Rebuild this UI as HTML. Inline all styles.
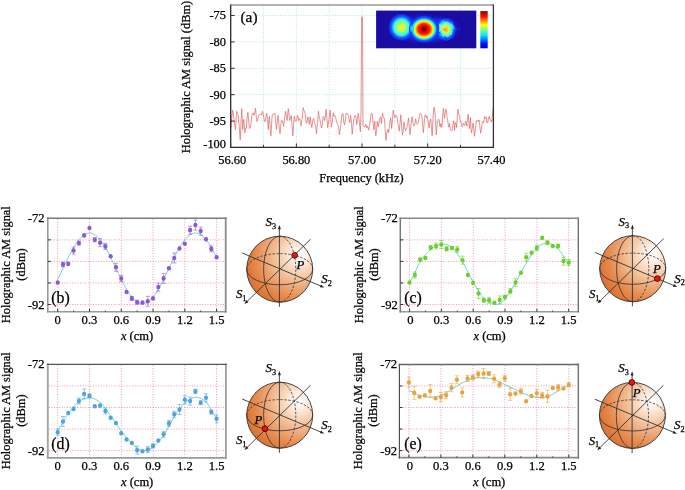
<!DOCTYPE html><html><head><meta charset="utf-8"><style>html,body{margin:0;padding:0;background:#fff;}svg{display:block;}text{stroke:#000;stroke-width:0.25px;}</style></head><body><svg width="685" height="490" viewBox="0 0 685 490" style="will-change:transform"><rect width="685" height="490" fill="#fff"/>
<path d="M263.54 6.00V147.40 M296.38 6.00V147.40 M329.21 6.00V147.40 M362.05 6.00V147.40 M394.89 6.00V147.40 M427.73 6.00V147.40 M460.56 6.00V147.40 M230.70 15.50H493.40 M230.70 41.90H493.40 M230.70 68.30H493.40 M230.70 94.70H493.40 M230.70 121.10H493.40" stroke="#a2e4e4" stroke-width="0.85" stroke-dasharray="1 1.6" fill="none"/>
<defs><filter id="bl" x="-10%" y="-10%" width="120%" height="120%"><feGaussianBlur stdDeviation="0.5"/></filter><filter id="tx" x="-20%" y="-20%" width="140%" height="140%"><feTurbulence type="fractalNoise" baseFrequency="0.16" numOctaves="2" seed="5"/><feDisplacementMap in="SourceGraphic" scale="3" xChannelSelector="R" yChannelSelector="G"/><feGaussianBlur stdDeviation="0.5"/></filter><clipPath id="icp"><rect x="376.1" y="10.6" width="100.2" height="37.7"/></clipPath><radialGradient id="hl"><stop offset="0" stop-color="#1a40ff"/><stop offset="0.55" stop-color="#1a38f8" stop-opacity="0.9"/><stop offset="1" stop-color="#1b0ca2" stop-opacity="0"/></radialGradient><radialGradient id="b1"><stop offset="0" stop-color="#e8f030"/><stop offset="0.18" stop-color="#d8f838"/><stop offset="0.32" stop-color="#a8ff60"/><stop offset="0.44" stop-color="#60ffb0"/><stop offset="0.54" stop-color="#40f8f0"/><stop offset="0.64" stop-color="#20c8ff"/><stop offset="0.74" stop-color="#1068ff"/><stop offset="0.87" stop-color="#1a38f0"/><stop offset="1" stop-color="#1a30e8" stop-opacity="0"/></radialGradient><radialGradient id="br"><stop offset="0" stop-color="#40f0f0"/><stop offset="0.5" stop-color="#30d0ff" stop-opacity="0.8"/><stop offset="1" stop-color="#1a40f0" stop-opacity="0"/></radialGradient><radialGradient id="b2"><stop offset="0" stop-color="#700000"/><stop offset="0.12" stop-color="#a00000"/><stop offset="0.24" stop-color="#e00800"/><stop offset="0.38" stop-color="#ff2000"/><stop offset="0.46" stop-color="#ff7000"/><stop offset="0.53" stop-color="#ffc800"/><stop offset="0.59" stop-color="#e8ff20"/><stop offset="0.66" stop-color="#70ffa0"/><stop offset="0.73" stop-color="#20e0ff"/><stop offset="0.82" stop-color="#1060ff"/><stop offset="0.92" stop-color="#1a38f0"/><stop offset="1" stop-color="#1a30e8" stop-opacity="0"/></radialGradient><radialGradient id="b3"><stop offset="0" stop-color="#f08020"/><stop offset="0.14" stop-color="#f0c030"/><stop offset="0.3" stop-color="#e8f040"/><stop offset="0.45" stop-color="#80ffa0"/><stop offset="0.6" stop-color="#40e8f8"/><stop offset="0.74" stop-color="#1068ff"/><stop offset="0.88" stop-color="#1a38f0"/><stop offset="1" stop-color="#1a30e8" stop-opacity="0"/></radialGradient><linearGradient id="cb" x1="0" y1="1" x2="0" y2="0"><stop offset="0" stop-color="#0000c8"/><stop offset="0.12" stop-color="#0010ff"/><stop offset="0.35" stop-color="#00e8ff"/><stop offset="0.5" stop-color="#80ff80"/><stop offset="0.63" stop-color="#ffff00"/><stop offset="0.85" stop-color="#ff1000"/><stop offset="1" stop-color="#900000"/></linearGradient></defs>
<rect x="376.1" y="10.6" width="100.20" height="37.70" fill="#1b0ca2"/>
<g clip-path="url(#icp)">
<ellipse cx="426" cy="29" rx="40" ry="17" fill="url(#hl)" filter="url(#tx)"/>
<ellipse cx="401.5" cy="27.2" rx="13.5" ry="14" fill="url(#b1)" filter="url(#bl)"/>
<ellipse cx="445.8" cy="29.4" rx="10.6" ry="12" fill="url(#b3)" filter="url(#tx)"/>
<ellipse cx="424.0" cy="29.2" rx="15.6" ry="13.8" fill="url(#b2)" filter="url(#bl)"/>
<ellipse cx="411.6" cy="28.4" rx="2.6" ry="5.5" fill="url(#br)" filter="url(#bl)" opacity="0.8"/>
</g>
<rect x="480.3" y="11.1" width="7.4" height="37.2" fill="url(#cb)"/>
<path d="M231.02 127.58 L231.79 117.98 L232.55 110.21 L233.32 113.51 L234.09 120.43 L234.85 125.81 L235.62 129.62 L236.13 118.21 L236.64 111.24 L237.41 113.47 L238.17 115.32 L239.19 126.88 L240.21 139.84 L240.98 121.96 L241.75 108.68 L242.26 119.19 L242.77 129.62 L243.28 122.11 L243.79 119.41 L244.30 125.70 L244.81 132.69 L245.58 128.41 L246.34 128.60 L247.11 118.30 L247.88 112.26 L248.64 120.04 L249.41 128.60 L250.17 127.75 L250.94 123.49 L251.71 116.43 L252.47 113.28 L253.24 112.86 L254.00 115.32 L254.77 112.41 L255.54 108.17 L256.30 117.14 L257.07 121.45 L257.83 118.79 L258.60 115.32 L259.62 114.27 L260.64 114.30 L261.41 115.24 L262.18 111.24 L262.94 111.94 L263.71 117.36 L264.47 121.27 L265.24 121.45 L266.01 116.27 L266.77 113.28 L267.54 119.60 L268.30 129.62 L268.82 121.00 L269.33 116.34 L270.09 125.05 L270.86 135.75 L271.37 128.71 L271.88 118.39 L272.65 114.43 L273.41 113.79 L274.18 113.96 L274.94 113.28 L275.71 122.17 L276.48 129.62 L277.24 121.81 L278.01 115.32 L279.03 124.76 L280.05 133.71 L280.82 124.79 L281.58 120.43 L282.60 121.20 L283.63 126.56 L284.65 117.37 L285.67 111.24 L286.44 116.77 L287.20 120.43 L287.71 114.18 L288.22 108.68 L288.99 113.59 L289.75 120.43 L290.52 118.32 L291.29 115.32 L292.05 125.29 L292.82 135.75 L293.59 125.01 L294.35 116.34 L295.12 120.43 L295.88 121.45 L296.65 119.42 L297.42 115.32 L298.00 116.54 L298.58 120.43 L299.09 119.79 L299.60 118.39 L300.36 122.35 L301.13 126.05 L302.15 118.80 L303.17 107.66 L303.94 110.64 L304.70 111.24 L305.47 116.26 L306.24 123.49 L307.00 122.67 L307.77 116.85 L308.53 118.70 L309.30 124.51 L309.81 120.26 L310.32 116.85 L311.09 123.55 L311.85 127.58 L312.62 121.17 L313.39 118.39 L314.15 120.88 L314.92 123.49 L315.68 126.20 L316.45 133.71 L317.47 123.35 L318.49 111.24 L319.26 116.95 L320.03 119.92 L320.79 124.38 L321.56 128.09 L322.32 124.17 L323.09 116.34 L323.86 117.42 L324.62 120.43 L325.39 115.83 L326.15 109.19 L326.92 118.88 L327.69 127.58 L328.96 119.31 L330.24 110.21 L330.75 118.41 L331.26 127.07 L332.28 121.69 L333.30 112.77 L334.07 116.36 L334.84 115.32 L335.60 117.74 L336.37 120.43 L337.13 123.58 L337.90 125.03 L338.67 127.59 L339.43 134.73 L340.71 125.56 L341.99 114.30 L342.50 114.81 L343.01 113.79 L343.77 121.97 L344.54 125.03 L345.31 120.83 L346.07 113.28 L347.09 113.18 L348.12 115.32 L348.88 118.30 L349.65 122.47 L350.16 119.77 L350.67 115.32 L351.44 122.29 L352.20 134.22 L352.97 126.87 L353.73 119.92 L354.50 115.89 L355.27 115.32 L356.03 117.93 L356.80 124.51 L357.56 116.60 L358.33 113.28 L360.37 131.66 L361.00 112.00 L361.60 17.20 L362.50 17.20 L363.00 126.00 L364.09 126.56 L364.85 126.93 L365.62 124.51 L366.13 124.37 L366.64 128.09 L367.15 126.01 L367.66 126.56 L368.17 127.78 L368.68 130.13 L369.70 125.17 L370.73 116.34 L371.49 113.14 L372.26 114.30 L373.02 121.70 L373.79 129.62 L374.30 125.79 L374.81 121.45 L375.32 130.59 L375.83 135.75 L376.60 130.26 L377.36 121.45 L377.88 125.90 L378.39 126.56 L379.41 120.55 L380.43 116.85 L380.94 119.73 L381.45 123.49 L381.96 117.65 L382.47 113.28 L383.49 117.83 L384.51 118.39 L385.28 131.75 L386.05 140.35 L386.81 133.17 L387.58 129.62 L388.09 129.47 L388.60 132.69 L389.62 123.89 L390.64 117.88 L391.15 121.85 L391.66 128.60 L392.43 119.33 L393.20 110.21 L393.96 114.51 L394.73 117.88 L395.50 115.36 L396.26 115.32 L397.03 116.83 L397.79 123.49 L398.56 126.90 L399.33 131.15 L400.09 122.30 L400.86 114.81 L401.62 125.37 L402.39 135.24 L403.16 130.96 L403.92 121.96 L404.69 127.29 L405.45 130.64 L406.22 128.94 L406.99 127.07 L407.75 123.08 L408.52 117.88 L409.28 127.22 L410.05 134.73 L411.07 123.47 L412.09 116.85 L413.12 123.53 L414.14 126.05 L414.90 123.93 L415.67 118.90 L416.44 123.65 L417.20 124.51 L417.97 123.77 L418.73 119.92 L419.50 116.04 L420.27 113.28 L421.03 113.77 L421.80 115.32 L422.56 121.94 L423.33 132.69 L424.10 124.96 L424.86 115.83 L425.63 114.58 L426.39 117.88 L426.97 116.14 L427.55 118.90 L428.32 121.98 L429.09 128.09 L429.85 121.74 L430.62 118.90 L431.38 126.49 L432.15 135.75 L432.92 120.15 L433.68 109.19 L434.19 107.00 L434.70 109.70 L435.47 120.40 L436.24 134.73 L437.00 125.51 L437.77 120.43 L438.28 119.21 L438.79 119.41 L439.30 120.52 L439.81 126.56 L440.32 126.97 L440.83 123.49 L441.34 126.13 L441.85 127.58 L442.62 116.05 L443.39 108.17 L443.90 111.99 L444.41 118.39 L445.17 113.00 L445.94 109.19 L446.45 112.32 L446.96 116.85 L447.73 120.00 L448.49 127.07 L449.00 127.10 L449.51 123.49 L450.28 129.63 L451.05 130.64 L451.56 130.47 L452.07 130.64 L452.83 125.71 L453.60 120.94 L454.11 123.64 L454.62 130.64 L455.13 124.49 L455.64 122.47 L456.15 124.21 L456.66 127.58 L457.28 117.16 L457.89 109.19 L458.55 113.97 L459.22 115.32 L459.73 116.63 L460.24 121.45 L461.01 121.27 L461.77 126.05 L462.54 126.86 L463.30 122.98 L464.07 124.41 L464.84 125.54 L465.35 121.66 L465.86 121.45 L466.37 123.97 L466.88 126.05 L467.49 117.71 L468.11 114.30 L468.77 121.60 L469.43 128.60 L469.94 125.47 L470.45 117.36 L470.97 126.91 L471.48 132.69 L472.24 128.85 L473.01 122.98 L473.77 128.38 L474.54 136.26 L475.31 129.18 L476.07 123.49 L476.84 120.23 L477.60 120.43 L478.37 121.59 L479.14 119.92 L479.90 126.73 L480.67 133.20 L481.44 129.29 L482.20 122.47 L482.97 121.84 L483.73 122.98 L484.24 118.22 L484.75 116.34 L485.52 118.47 L486.29 117.36 L486.80 122.70 L487.31 122.98 L487.82 122.26 L488.33 117.88 L488.84 118.70 L489.35 116.34 L490.12 119.79 L490.88 119.92 L491.39 121.93 L491.91 121.45 L492.57 113.13 L493.23 107.66" stroke="#e25e5e" stroke-width="0.8" fill="none" stroke-linejoin="round" opacity="0.85"/>
<path d="M231.20 5.00H493.40" stroke="#9a9a9a" stroke-width="1.6"/>
<path d="M493.40 4.50V147.90" stroke="#333" stroke-width="1.3"/>
<path d="M230.70 4.50V147.40H494.00" stroke="#2a2a2a" stroke-width="1.3" fill="none"/>
<path d="M230.70 15.50h4 M230.70 41.90h4 M230.70 68.30h4 M230.70 94.70h4 M230.70 121.10h4 M230.70 147.40v-4 M263.54 147.40v-2.5 M296.38 147.40v-4 M329.21 147.40v-2.5 M362.05 147.40v-4 M394.89 147.40v-2.5 M427.73 147.40v-4 M460.56 147.40v-2.5 M493.40 147.40v-4" stroke="#333" stroke-width="1" fill="none"/>
<text x="226.0" y="19.45" text-anchor="end" font-family="Liberation Serif" font-size="12.4">-75</text>
<text x="226.0" y="45.85" text-anchor="end" font-family="Liberation Serif" font-size="12.4">-80</text>
<text x="226.0" y="72.25" text-anchor="end" font-family="Liberation Serif" font-size="12.4">-85</text>
<text x="226.0" y="98.65" text-anchor="end" font-family="Liberation Serif" font-size="12.4">-90</text>
<text x="226.0" y="125.05" text-anchor="end" font-family="Liberation Serif" font-size="12.4">-95</text>
<text x="226.0" y="148.25" text-anchor="end" font-family="Liberation Serif" font-size="12.4">-100</text>
<text x="232.30" y="163.8" text-anchor="middle" font-family="Liberation Serif" font-size="12.4">56.60</text>
<text x="296.38" y="163.8" text-anchor="middle" font-family="Liberation Serif" font-size="12.4">56.80</text>
<text x="362.05" y="163.8" text-anchor="middle" font-family="Liberation Serif" font-size="12.4">57.00</text>
<text x="427.73" y="163.8" text-anchor="middle" font-family="Liberation Serif" font-size="12.4">57.20</text>
<text x="491.40" y="163.8" text-anchor="middle" font-family="Liberation Serif" font-size="12.4">57.40</text>
<text x="361.5" y="182.4" text-anchor="middle" font-family="Liberation Serif" font-size="12.4">Frequency (kHz)</text>
<text transform="translate(190.2 77) rotate(-90)" text-anchor="middle" font-family="Liberation Serif" font-size="12.4">Holographic AM signal (dBm)</text>
<text x="240.5" y="22.0" font-family="Liberation Serif" font-size="15.3">(a)</text>
<path d="M57.70 219.30V310.70 M89.48 219.30V310.70 M121.26 219.30V310.70 M153.04 219.30V310.70 M184.82 219.30V310.70 M216.60 219.30V310.70" stroke="#f08aa4" stroke-width="0.9" stroke-dasharray="1 1.6" fill="none"/>
<path d="M48.80 239.85H224.70 M48.80 261.40H224.70 M48.80 282.95H224.70 M48.80 304.50H224.70" stroke="#f08aa4" stroke-width="0.9" stroke-dasharray="1 1.6" fill="none"/>
<path d="M57.70 279.34 L58.76 277.20 L59.82 275.03 L60.88 272.84 L61.94 270.62 L63.00 268.40 L64.06 266.18 L65.12 263.96 L66.17 261.77 L67.23 259.60 L68.29 257.46 L69.35 255.37 L70.41 253.33 L71.47 251.35 L72.53 249.43 L73.59 247.59 L74.65 245.84 L75.71 244.17 L76.77 242.59 L77.83 241.12 L78.89 239.76 L79.95 238.51 L81.01 237.38 L82.06 236.37 L83.12 235.49 L84.18 234.73 L85.24 234.11 L86.30 233.63 L87.36 233.28 L88.42 233.07 L89.48 233.00 L90.54 233.07 L91.60 233.28 L92.66 233.63 L93.72 234.11 L94.78 234.73 L95.84 235.49 L96.90 236.37 L97.95 237.38 L99.01 238.51 L100.07 239.76 L101.13 241.12 L102.19 242.59 L103.25 244.17 L104.31 245.84 L105.37 247.59 L106.43 249.43 L107.49 251.35 L108.55 253.33 L109.61 255.37 L110.67 257.46 L111.73 259.60 L112.79 261.77 L113.84 263.96 L114.90 266.18 L115.96 268.40 L117.02 270.62 L118.08 272.84 L119.14 275.03 L120.20 277.20 L121.26 279.34 L122.32 281.43 L123.38 283.47 L124.44 285.45 L125.50 287.37 L126.56 289.21 L127.62 290.96 L128.68 292.63 L129.73 294.21 L130.79 295.68 L131.85 297.04 L132.91 298.29 L133.97 299.42 L135.03 300.43 L136.09 301.31 L137.15 302.07 L138.21 302.69 L139.27 303.17 L140.33 303.52 L141.39 303.73 L142.45 303.80 L143.51 303.73 L144.57 303.52 L145.62 303.17 L146.68 302.69 L147.74 302.07 L148.80 301.31 L149.86 300.43 L150.92 299.42 L151.98 298.29 L153.04 297.04 L154.10 295.68 L155.16 294.21 L156.22 292.63 L157.28 290.96 L158.34 289.21 L159.40 287.37 L160.46 285.45 L161.51 283.47 L162.57 281.43 L163.63 279.34 L164.69 277.20 L165.75 275.03 L166.81 272.84 L167.87 270.62 L168.93 268.40 L169.99 266.18 L171.05 263.96 L172.11 261.77 L173.17 259.60 L174.23 257.46 L175.29 255.37 L176.35 253.33 L177.40 251.35 L178.46 249.43 L179.52 247.59 L180.58 245.84 L181.64 244.17 L182.70 242.59 L183.76 241.12 L184.82 239.76 L185.88 238.51 L186.94 237.38 L188.00 236.37 L189.06 235.49 L190.12 234.73 L191.18 234.11 L192.24 233.63 L193.29 233.28 L194.35 233.07 L195.41 233.00 L196.47 233.07 L197.53 233.28 L198.59 233.63 L199.65 234.11 L200.71 234.73 L201.77 235.49 L202.83 236.37 L203.89 237.38 L204.95 238.51 L206.01 239.76 L207.07 241.12 L208.13 242.59 L209.18 244.17 L210.24 245.84 L211.30 247.59 L212.36 249.43 L213.42 251.35 L214.48 253.33 L215.54 255.37 L216.60 257.46" stroke="#5ed2ca" stroke-width="0.95" fill="none"/>
<path d="M63.00 262.10V266.70M60.90 262.10h4.2M60.90 266.70h4.2 M73.59 247.00V254.00M71.49 247.00h4.2M71.49 254.00h4.2 M78.89 241.10V245.10M76.79 241.10h4.2M76.79 245.10h4.2 M94.78 237.80V241.80M92.68 237.80h4.2M92.68 241.80h4.2 M100.07 238.70V246.70M97.97 238.70h4.2M97.97 246.70h4.2 M105.37 243.40V249.40M103.27 243.40h4.2M103.27 249.40h4.2 M115.96 263.30V271.30M113.86 263.30h4.2M113.86 271.30h4.2 M121.26 275.60V281.60M119.16 275.60h4.2M119.16 281.60h4.2 M131.85 296.40V300.40M129.75 296.40h4.2M129.75 300.40h4.2 M137.15 300.20V304.20M135.05 300.20h4.2M135.05 304.20h4.2 M147.74 296.30V306.30M145.64 296.30h4.2M145.64 306.30h4.2 M158.34 283.10V291.10M156.24 283.10h4.2M156.24 291.10h4.2 M163.63 273.40V283.40M161.53 273.40h4.2M161.53 283.40h4.2 M174.23 253.00V263.00M172.13 253.00h4.2M172.13 263.00h4.2 M190.12 226.10V234.10M188.02 226.10h4.2M188.02 234.10h4.2 M195.41 220.10V230.10M193.31 220.10h4.2M193.31 230.10h4.2 M200.71 227.10V235.10M198.61 227.10h4.2M198.61 235.10h4.2 M211.30 245.90V251.90M209.20 245.90h4.2M209.20 251.90h4.2" stroke="#8e56d8" stroke-width="0.9" fill="none" opacity="0.65"/>
<ellipse cx="57.70" cy="282.50" rx="2.1" ry="2.3" fill="#8e56d8"/>
<ellipse cx="63.00" cy="264.40" rx="2.1" ry="2.3" fill="#8e56d8"/>
<ellipse cx="68.29" cy="263.90" rx="2.1" ry="2.3" fill="#8e56d8"/>
<ellipse cx="73.59" cy="250.50" rx="2.1" ry="2.3" fill="#8e56d8"/>
<ellipse cx="78.89" cy="243.10" rx="2.1" ry="2.3" fill="#8e56d8"/>
<ellipse cx="84.18" cy="235.40" rx="2.1" ry="2.3" fill="#8e56d8"/>
<ellipse cx="89.48" cy="228.00" rx="2.1" ry="2.3" fill="#8e56d8"/>
<ellipse cx="94.78" cy="239.80" rx="2.1" ry="2.3" fill="#8e56d8"/>
<ellipse cx="100.07" cy="242.70" rx="2.1" ry="2.3" fill="#8e56d8"/>
<ellipse cx="105.37" cy="246.40" rx="2.1" ry="2.3" fill="#8e56d8"/>
<ellipse cx="110.67" cy="256.30" rx="2.1" ry="2.3" fill="#8e56d8"/>
<ellipse cx="115.96" cy="267.30" rx="2.1" ry="2.3" fill="#8e56d8"/>
<ellipse cx="121.26" cy="278.60" rx="2.1" ry="2.3" fill="#8e56d8"/>
<ellipse cx="126.56" cy="292.00" rx="2.1" ry="2.3" fill="#8e56d8"/>
<ellipse cx="131.85" cy="298.40" rx="2.1" ry="2.3" fill="#8e56d8"/>
<ellipse cx="137.15" cy="302.20" rx="2.1" ry="2.3" fill="#8e56d8"/>
<ellipse cx="142.45" cy="302.60" rx="2.1" ry="2.3" fill="#8e56d8"/>
<ellipse cx="147.74" cy="301.30" rx="2.1" ry="2.3" fill="#8e56d8"/>
<ellipse cx="153.04" cy="298.40" rx="2.1" ry="2.3" fill="#8e56d8"/>
<ellipse cx="158.34" cy="287.10" rx="2.1" ry="2.3" fill="#8e56d8"/>
<ellipse cx="163.63" cy="278.40" rx="2.1" ry="2.3" fill="#8e56d8"/>
<ellipse cx="168.93" cy="268.30" rx="2.1" ry="2.3" fill="#8e56d8"/>
<ellipse cx="174.23" cy="258.00" rx="2.1" ry="2.3" fill="#8e56d8"/>
<ellipse cx="179.52" cy="248.50" rx="2.1" ry="2.3" fill="#8e56d8"/>
<ellipse cx="184.82" cy="243.70" rx="2.1" ry="2.3" fill="#8e56d8"/>
<ellipse cx="190.12" cy="230.10" rx="2.1" ry="2.3" fill="#8e56d8"/>
<ellipse cx="195.41" cy="225.10" rx="2.1" ry="2.3" fill="#8e56d8"/>
<ellipse cx="200.71" cy="231.10" rx="2.1" ry="2.3" fill="#8e56d8"/>
<ellipse cx="206.01" cy="239.20" rx="2.1" ry="2.3" fill="#8e56d8"/>
<ellipse cx="211.30" cy="248.90" rx="2.1" ry="2.3" fill="#8e56d8"/>
<ellipse cx="216.60" cy="257.30" rx="2.1" ry="2.3" fill="#8e56d8"/>
<path d="M47.80 311.70H225.70" stroke="#999" stroke-width="1.6" stroke-linecap="square"/>
<path d="M47.80 218.30V311.70" stroke="#999" stroke-width="1.6" stroke-linecap="square"/>
<path d="M225.70 218.30V311.70" stroke="#8a8a8a" stroke-width="1.8" stroke-linecap="square"/>
<path d="M47.80 218.30H225.70" stroke="#7a7a7a" stroke-width="1.5" stroke-linecap="square"/>
<path d="M47.80 239.85h3 M47.80 261.40h3 M47.80 282.95h3 M47.80 304.50h3 M57.70 311.70v-3 M73.59 311.70v-1.2 M89.48 311.70v-3 M105.37 311.70v-1.2 M121.26 311.70v-3 M137.15 311.70v-1.2 M153.04 311.70v-3 M168.93 311.70v-1.2 M184.82 311.70v-3 M200.71 311.70v-1.2 M216.60 311.70v-3" stroke="#333" stroke-width="1" fill="none"/>
<text x="44.60" y="222.30" text-anchor="end" font-family="Liberation Serif" font-size="12.6">-72</text>
<text x="44.60" y="308.50" text-anchor="end" font-family="Liberation Serif" font-size="12.6">-92</text>
<text x="57.70" y="324.00" text-anchor="middle" font-family="Liberation Serif" font-size="12.6">0</text>
<text x="89.48" y="324.00" text-anchor="middle" font-family="Liberation Serif" font-size="12.6">0.3</text>
<text x="121.26" y="324.00" text-anchor="middle" font-family="Liberation Serif" font-size="12.6">0.6</text>
<text x="153.04" y="324.00" text-anchor="middle" font-family="Liberation Serif" font-size="12.6">0.9</text>
<text x="184.82" y="324.00" text-anchor="middle" font-family="Liberation Serif" font-size="12.6">1.2</text>
<text x="216.60" y="324.00" text-anchor="middle" font-family="Liberation Serif" font-size="12.6">1.5</text>
<text x="137.05" y="339.70" text-anchor="middle" font-family="Liberation Serif" font-size="12.5"><tspan font-style="italic">x</tspan> (cm)</text>
<text transform="translate(10.20 264.70) rotate(-90)" text-anchor="middle" font-family="Liberation Serif" font-size="12.4">Holographic AM signal</text>
<text transform="translate(25.30 264.50) rotate(-90)" text-anchor="middle" font-family="Liberation Serif" font-size="12.4">(dBm)</text>
<text x="51.30" y="302.70" font-family="Liberation Serif" font-size="15.8">(b)</text>
<path d="M409.50 219.30V310.70 M441.34 219.30V310.70 M473.18 219.30V310.70 M505.02 219.30V310.70 M536.86 219.30V310.70 M568.70 219.30V310.70" stroke="#e88ad8" stroke-width="0.9" stroke-dasharray="1 1.6" fill="none"/>
<path d="M401.30 239.85H577.30 M401.30 261.40H577.30 M401.30 282.95H577.30 M401.30 304.50H577.30" stroke="#f08aa4" stroke-width="0.9" stroke-dasharray="1 1.6" fill="none"/>
<path d="M409.50 281.90 L410.56 280.68 L411.62 279.08 L412.68 277.16 L413.75 275.02 L414.81 272.73 L415.87 270.38 L416.93 268.05 L417.99 265.82 L419.05 263.78 L420.11 262.00 L421.17 260.42 L422.24 258.91 L423.30 257.48 L424.36 256.12 L425.42 254.84 L426.48 253.63 L427.54 252.49 L428.60 251.42 L429.67 250.43 L430.73 249.50 L431.79 248.64 L432.85 247.84 L433.91 247.11 L434.97 246.45 L436.03 245.86 L437.09 245.36 L438.16 244.93 L439.22 244.59 L440.28 244.35 L441.34 244.20 L442.40 244.13 L443.46 244.13 L444.52 244.21 L445.59 244.36 L446.65 244.61 L447.71 244.96 L448.77 245.42 L449.83 245.99 L450.89 246.68 L451.95 247.50 L453.01 248.47 L454.08 249.60 L455.14 250.85 L456.20 252.23 L457.26 253.71 L458.32 255.27 L459.38 256.89 L460.44 258.57 L461.51 260.28 L462.57 262.00 L463.63 263.80 L464.69 265.71 L465.75 267.72 L466.81 269.80 L467.87 271.91 L468.93 274.02 L470.00 276.12 L471.06 278.17 L472.12 280.14 L473.18 282.00 L474.24 283.81 L475.30 285.62 L476.36 287.42 L477.43 289.18 L478.49 290.89 L479.55 292.53 L480.61 294.08 L481.67 295.52 L482.73 296.83 L483.79 298.00 L484.85 299.02 L485.92 299.91 L486.98 300.68 L488.04 301.34 L489.10 301.91 L490.16 302.40 L491.22 302.82 L492.28 303.19 L493.35 303.51 L494.41 303.80 L495.47 304.22 L496.53 304.39 L497.59 304.32 L498.65 304.05 L499.71 303.60 L500.77 303.07 L501.84 302.44 L502.90 301.56 L503.96 300.30 L505.02 298.50 L506.08 297.36 L507.14 296.05 L508.20 294.61 L509.27 293.05 L510.33 291.40 L511.39 289.68 L512.45 287.90 L513.51 286.10 L514.57 284.29 L515.63 282.50 L516.69 280.67 L517.76 278.75 L518.82 276.77 L519.88 274.74 L520.94 272.69 L522.00 270.64 L523.06 268.63 L524.12 266.67 L525.19 264.78 L526.25 263.00 L527.31 261.27 L528.37 259.55 L529.43 257.85 L530.49 256.19 L531.55 254.58 L532.61 253.05 L533.68 251.61 L534.74 250.28 L535.80 249.07 L536.86 248.00 L537.92 247.06 L538.98 246.22 L540.04 245.48 L541.11 244.84 L542.17 244.30 L543.23 243.87 L544.29 243.54 L545.35 243.32 L546.41 243.20 L547.47 243.20 L548.53 243.32 L549.60 243.56 L550.66 243.92 L551.72 244.39 L552.78 244.96 L553.84 245.62 L554.90 246.36 L555.96 247.18 L557.03 248.06 L558.09 249.00 L559.15 250.10 L560.21 251.42 L561.27 252.91 L562.33 254.49 L563.39 256.11 L564.45 257.70 L565.52 259.20 L566.58 260.54 L567.64 261.66 L568.70 262.50" stroke="#5ed2ca" stroke-width="0.95" fill="none"/>
<path d="M414.81 272.10V278.10M412.71 272.10h4.2M412.71 278.10h4.2 M420.11 258.10V261.10M418.01 258.10h4.2M418.01 261.10h4.2 M430.73 245.60V249.60M428.63 245.60h4.2M428.63 249.60h4.2 M436.03 243.00V249.00M433.93 243.00h4.2M433.93 249.00h4.2 M441.34 240.50V248.50M439.24 240.50h4.2M439.24 248.50h4.2 M446.65 246.90V250.90M444.55 246.90h4.2M444.55 250.90h4.2 M451.95 246.50V249.50M449.85 246.50h4.2M449.85 249.50h4.2 M457.26 246.50V252.50M455.16 246.50h4.2M455.16 252.50h4.2 M462.57 256.20V264.20M460.47 256.20h4.2M460.47 264.20h4.2 M478.49 288.50V298.50M476.39 288.50h4.2M476.39 298.50h4.2 M483.79 298.30V302.30M481.69 298.30h4.2M481.69 302.30h4.2 M489.10 297.30V303.30M487.00 297.30h4.2M487.00 303.30h4.2 M499.71 295.90V303.90M497.61 295.90h4.2M497.61 303.90h4.2 M505.02 295.00V299.00M502.92 295.00h4.2M502.92 299.00h4.2 M510.33 288.50V293.90M508.23 288.50h4.2M508.23 293.90h4.2 M515.63 278.60V286.40M513.53 278.60h4.2M513.53 286.40h4.2 M526.25 253.30V261.30M524.15 253.30h4.2M524.15 261.30h4.2 M536.86 245.00V251.00M534.76 245.00h4.2M534.76 251.00h4.2 M547.47 240.70V244.70M545.37 240.70h4.2M545.37 244.70h4.2 M558.09 244.00V248.00M555.99 244.00h4.2M555.99 248.00h4.2 M563.39 257.10V265.10M561.29 257.10h4.2M561.29 265.10h4.2 M568.70 259.50V265.50M566.60 259.50h4.2M566.60 265.50h4.2" stroke="#6ccf2c" stroke-width="0.9" fill="none" opacity="0.65"/>
<ellipse cx="409.50" cy="282.50" rx="2.1" ry="2.3" fill="#6ccf2c"/>
<ellipse cx="414.81" cy="275.10" rx="2.1" ry="2.3" fill="#6ccf2c"/>
<ellipse cx="420.11" cy="259.60" rx="2.1" ry="2.3" fill="#6ccf2c"/>
<ellipse cx="425.42" cy="258.00" rx="2.1" ry="2.3" fill="#6ccf2c"/>
<ellipse cx="430.73" cy="247.60" rx="2.1" ry="2.3" fill="#6ccf2c"/>
<ellipse cx="436.03" cy="246.00" rx="2.1" ry="2.3" fill="#6ccf2c"/>
<ellipse cx="441.34" cy="244.50" rx="2.1" ry="2.3" fill="#6ccf2c"/>
<ellipse cx="446.65" cy="248.90" rx="2.1" ry="2.3" fill="#6ccf2c"/>
<ellipse cx="451.95" cy="248.00" rx="2.1" ry="2.3" fill="#6ccf2c"/>
<ellipse cx="457.26" cy="249.50" rx="2.1" ry="2.3" fill="#6ccf2c"/>
<ellipse cx="462.57" cy="260.20" rx="2.1" ry="2.3" fill="#6ccf2c"/>
<ellipse cx="467.87" cy="275.10" rx="2.1" ry="2.3" fill="#6ccf2c"/>
<ellipse cx="473.18" cy="282.90" rx="2.1" ry="2.3" fill="#6ccf2c"/>
<ellipse cx="478.49" cy="293.50" rx="2.1" ry="2.3" fill="#6ccf2c"/>
<ellipse cx="483.79" cy="300.30" rx="2.1" ry="2.3" fill="#6ccf2c"/>
<ellipse cx="489.10" cy="300.30" rx="2.1" ry="2.3" fill="#6ccf2c"/>
<ellipse cx="494.41" cy="302.80" rx="2.1" ry="2.3" fill="#6ccf2c"/>
<ellipse cx="499.71" cy="299.90" rx="2.1" ry="2.3" fill="#6ccf2c"/>
<ellipse cx="505.02" cy="297.00" rx="2.1" ry="2.3" fill="#6ccf2c"/>
<ellipse cx="510.33" cy="291.20" rx="2.1" ry="2.3" fill="#6ccf2c"/>
<ellipse cx="515.63" cy="282.50" rx="2.1" ry="2.3" fill="#6ccf2c"/>
<ellipse cx="520.94" cy="272.80" rx="2.1" ry="2.3" fill="#6ccf2c"/>
<ellipse cx="526.25" cy="257.30" rx="2.1" ry="2.3" fill="#6ccf2c"/>
<ellipse cx="531.55" cy="252.80" rx="2.1" ry="2.3" fill="#6ccf2c"/>
<ellipse cx="536.86" cy="248.00" rx="2.1" ry="2.3" fill="#6ccf2c"/>
<ellipse cx="542.17" cy="237.90" rx="2.1" ry="2.3" fill="#6ccf2c"/>
<ellipse cx="547.47" cy="242.70" rx="2.1" ry="2.3" fill="#6ccf2c"/>
<ellipse cx="552.78" cy="246.00" rx="2.1" ry="2.3" fill="#6ccf2c"/>
<ellipse cx="558.09" cy="246.00" rx="2.1" ry="2.3" fill="#6ccf2c"/>
<ellipse cx="563.39" cy="261.10" rx="2.1" ry="2.3" fill="#6ccf2c"/>
<ellipse cx="568.70" cy="262.50" rx="2.1" ry="2.3" fill="#6ccf2c"/>
<path d="M400.30 311.70H578.30" stroke="#999" stroke-width="1.6" stroke-linecap="square"/>
<path d="M400.30 218.30V311.70" stroke="#777" stroke-width="1.5" stroke-linecap="square"/>
<path d="M578.30 218.30V311.70" stroke="#666" stroke-width="1.3" stroke-linecap="square"/>
<path d="M400.30 218.30H578.30" stroke="#888" stroke-width="1.6" stroke-linecap="square"/>
<path d="M400.30 239.85h3 M400.30 261.40h3 M400.30 282.95h3 M400.30 304.50h3 M409.50 311.70v-3 M425.42 311.70v-1.2 M441.34 311.70v-3 M457.26 311.70v-1.2 M473.18 311.70v-3 M489.10 311.70v-1.2 M505.02 311.70v-3 M520.94 311.70v-1.2 M536.86 311.70v-3 M552.78 311.70v-1.2 M568.70 311.70v-3" stroke="#333" stroke-width="1" fill="none"/>
<text x="397.90" y="222.30" text-anchor="end" font-family="Liberation Serif" font-size="12.6">-72</text>
<text x="397.90" y="308.50" text-anchor="end" font-family="Liberation Serif" font-size="12.6">-92</text>
<text x="410.40" y="324.00" text-anchor="middle" font-family="Liberation Serif" font-size="12.6">0</text>
<text x="441.34" y="324.00" text-anchor="middle" font-family="Liberation Serif" font-size="12.6">0.3</text>
<text x="473.18" y="324.00" text-anchor="middle" font-family="Liberation Serif" font-size="12.6">0.6</text>
<text x="505.02" y="324.00" text-anchor="middle" font-family="Liberation Serif" font-size="12.6">0.9</text>
<text x="536.86" y="324.00" text-anchor="middle" font-family="Liberation Serif" font-size="12.6">1.2</text>
<text x="568.70" y="324.00" text-anchor="middle" font-family="Liberation Serif" font-size="12.6">1.5</text>
<text x="489.60" y="339.70" text-anchor="middle" font-family="Liberation Serif" font-size="12.5"><tspan font-style="italic">x</tspan> (cm)</text>
<text transform="translate(362.70 264.70) rotate(-90)" text-anchor="middle" font-family="Liberation Serif" font-size="12.4">Holographic AM signal</text>
<text transform="translate(377.80 264.50) rotate(-90)" text-anchor="middle" font-family="Liberation Serif" font-size="12.4">(dBm)</text>
<text x="404.20" y="302.70" font-family="Liberation Serif" font-size="15.8">(c)</text>
<path d="M57.70 365.40V456.80 M89.48 365.40V456.80 M121.26 365.40V456.80 M153.04 365.40V456.80 M184.82 365.40V456.80 M216.60 365.40V456.80" stroke="#f08aa4" stroke-width="0.9" stroke-dasharray="1 1.6" fill="none"/>
<path d="M48.80 385.95H224.90 M48.80 407.50H224.90 M48.80 429.05H224.90 M48.80 450.60H224.90" stroke="#f08aa4" stroke-width="0.9" stroke-dasharray="1 1.6" fill="none"/>
<path d="M57.70 429.20 L58.76 428.25 L59.82 427.01 L60.88 425.53 L61.94 423.87 L63.00 422.10 L64.06 420.27 L65.12 418.43 L66.17 416.65 L67.23 414.99 L68.29 413.50 L69.35 412.11 L70.41 410.73 L71.47 409.37 L72.53 408.04 L73.59 406.75 L74.65 405.52 L75.71 404.37 L76.77 403.31 L77.83 402.35 L78.89 401.50 L79.95 400.76 L81.01 400.10 L82.06 399.52 L83.12 399.03 L84.18 398.62 L85.24 398.29 L86.30 398.05 L87.36 397.88 L88.42 397.80 L89.48 397.80 L90.54 397.88 L91.60 398.03 L92.66 398.26 L93.72 398.58 L94.78 398.98 L95.84 399.46 L96.90 400.03 L97.95 400.69 L99.01 401.45 L100.07 402.30 L101.13 403.28 L102.19 404.40 L103.25 405.63 L104.31 406.97 L105.37 408.38 L106.43 409.85 L107.49 411.34 L108.55 412.85 L109.61 414.34 L110.67 415.80 L111.73 417.26 L112.79 418.77 L113.84 420.32 L114.90 421.88 L115.96 423.46 L117.02 425.03 L118.08 426.58 L119.14 428.10 L120.20 429.58 L121.26 431.00 L122.32 432.39 L123.38 433.78 L124.44 435.15 L125.50 436.50 L126.56 437.81 L127.62 439.09 L128.68 440.31 L129.73 441.48 L130.79 442.58 L131.85 443.60 L132.91 444.57 L133.97 445.53 L135.03 446.45 L136.09 447.31 L137.15 448.11 L138.21 448.83 L139.27 449.46 L140.33 449.97 L141.39 450.35 L142.45 450.60 L143.51 450.71 L144.57 450.69 L145.62 450.56 L146.68 450.33 L147.74 449.99 L148.80 449.55 L149.86 449.03 L150.92 448.43 L151.98 447.75 L153.04 447.00 L154.10 446.17 L155.16 445.23 L156.22 444.21 L157.28 443.09 L158.34 441.90 L159.40 440.64 L160.46 439.31 L161.51 437.92 L162.57 436.48 L163.63 435.00 L164.69 433.43 L165.75 431.72 L166.81 429.91 L167.87 428.04 L168.93 426.12 L169.99 424.20 L171.05 422.29 L172.11 420.44 L173.17 418.66 L174.23 417.00 L175.29 415.40 L176.35 413.81 L177.40 412.24 L178.46 410.71 L179.52 409.22 L180.58 407.80 L181.64 406.46 L182.70 405.20 L183.76 404.04 L184.82 403.00 L185.88 402.05 L186.94 401.18 L188.00 400.38 L189.06 399.67 L190.12 399.04 L191.18 398.50 L192.24 398.07 L193.29 397.73 L194.35 397.51 L195.41 397.40 L196.47 397.40 L197.53 397.49 L198.59 397.69 L199.65 397.98 L200.71 398.38 L201.77 398.89 L202.83 399.50 L203.89 400.22 L204.95 401.05 L206.01 402.00 L207.07 403.18 L208.13 404.65 L209.18 406.34 L210.24 408.16 L211.30 410.04 L212.36 411.89 L213.42 413.65 L214.48 415.22 L215.54 416.53 L216.60 417.50" stroke="#5ed2ca" stroke-width="0.95" fill="none"/>
<path d="M57.70 429.20V435.20M55.60 429.20h4.2M55.60 435.20h4.2 M63.00 416.50V426.50M60.90 416.50h4.2M60.90 426.50h4.2 M78.89 398.10V404.10M76.79 398.10h4.2M76.79 404.10h4.2 M84.18 389.00V399.00M82.08 389.00h4.2M82.08 399.00h4.2 M89.48 393.90V397.90M87.38 393.90h4.2M87.38 397.90h4.2 M105.37 408.00V414.00M103.27 408.00h4.2M103.27 414.00h4.2 M137.15 446.20V454.20M135.05 446.20h4.2M135.05 454.20h4.2 M147.74 446.60V452.60M145.64 446.60h4.2M145.64 452.60h4.2 M153.04 443.90V447.90M150.94 443.90h4.2M150.94 447.90h4.2 M163.63 431.30V437.30M161.53 431.30h4.2M161.53 437.30h4.2 M168.93 420.40V426.40M166.83 420.40h4.2M166.83 426.40h4.2 M174.23 411.30V417.30M172.13 411.30h4.2M172.13 417.30h4.2 M179.52 404.50V414.50M177.42 404.50h4.2M177.42 414.50h4.2 M184.82 395.80V403.80M182.72 395.80h4.2M182.72 403.80h4.2 M190.12 397.10V405.10M188.02 397.10h4.2M188.02 405.10h4.2 M195.41 389.40V393.40M193.31 389.40h4.2M193.31 393.40h4.2 M200.71 400.70V404.70M198.61 400.70h4.2M198.61 404.70h4.2 M206.01 393.80V401.80M203.91 393.80h4.2M203.91 401.80h4.2 M211.30 410.00V414.00M209.20 410.00h4.2M209.20 414.00h4.2 M216.60 414.80V422.80M214.50 414.80h4.2M214.50 422.80h4.2" stroke="#4ea3e6" stroke-width="0.9" fill="none" opacity="0.65"/>
<ellipse cx="57.70" cy="432.20" rx="2.1" ry="2.3" fill="#4ea3e6"/>
<ellipse cx="63.00" cy="421.50" rx="2.1" ry="2.3" fill="#4ea3e6"/>
<ellipse cx="68.29" cy="413.00" rx="2.1" ry="2.3" fill="#4ea3e6"/>
<ellipse cx="73.59" cy="408.90" rx="2.1" ry="2.3" fill="#4ea3e6"/>
<ellipse cx="78.89" cy="401.10" rx="2.1" ry="2.3" fill="#4ea3e6"/>
<ellipse cx="84.18" cy="394.00" rx="2.1" ry="2.3" fill="#4ea3e6"/>
<ellipse cx="89.48" cy="395.90" rx="2.1" ry="2.3" fill="#4ea3e6"/>
<ellipse cx="94.78" cy="406.20" rx="2.1" ry="2.3" fill="#4ea3e6"/>
<ellipse cx="100.07" cy="405.60" rx="2.1" ry="2.3" fill="#4ea3e6"/>
<ellipse cx="105.37" cy="411.00" rx="2.1" ry="2.3" fill="#4ea3e6"/>
<ellipse cx="110.67" cy="417.80" rx="2.1" ry="2.3" fill="#4ea3e6"/>
<ellipse cx="115.96" cy="423.00" rx="2.1" ry="2.3" fill="#4ea3e6"/>
<ellipse cx="121.26" cy="433.30" rx="2.1" ry="2.3" fill="#4ea3e6"/>
<ellipse cx="126.56" cy="439.50" rx="2.1" ry="2.3" fill="#4ea3e6"/>
<ellipse cx="131.85" cy="443.00" rx="2.1" ry="2.3" fill="#4ea3e6"/>
<ellipse cx="137.15" cy="450.20" rx="2.1" ry="2.3" fill="#4ea3e6"/>
<ellipse cx="142.45" cy="451.20" rx="2.1" ry="2.3" fill="#4ea3e6"/>
<ellipse cx="147.74" cy="449.60" rx="2.1" ry="2.3" fill="#4ea3e6"/>
<ellipse cx="153.04" cy="445.90" rx="2.1" ry="2.3" fill="#4ea3e6"/>
<ellipse cx="158.34" cy="440.50" rx="2.1" ry="2.3" fill="#4ea3e6"/>
<ellipse cx="163.63" cy="434.30" rx="2.1" ry="2.3" fill="#4ea3e6"/>
<ellipse cx="168.93" cy="423.40" rx="2.1" ry="2.3" fill="#4ea3e6"/>
<ellipse cx="174.23" cy="414.30" rx="2.1" ry="2.3" fill="#4ea3e6"/>
<ellipse cx="179.52" cy="409.50" rx="2.1" ry="2.3" fill="#4ea3e6"/>
<ellipse cx="184.82" cy="399.80" rx="2.1" ry="2.3" fill="#4ea3e6"/>
<ellipse cx="190.12" cy="401.10" rx="2.1" ry="2.3" fill="#4ea3e6"/>
<ellipse cx="195.41" cy="391.40" rx="2.1" ry="2.3" fill="#4ea3e6"/>
<ellipse cx="200.71" cy="402.70" rx="2.1" ry="2.3" fill="#4ea3e6"/>
<ellipse cx="206.01" cy="397.80" rx="2.1" ry="2.3" fill="#4ea3e6"/>
<ellipse cx="211.30" cy="412.00" rx="2.1" ry="2.3" fill="#4ea3e6"/>
<ellipse cx="216.60" cy="418.80" rx="2.1" ry="2.3" fill="#4ea3e6"/>
<path d="M47.80 457.80H225.90" stroke="#999" stroke-width="1.7" stroke-linecap="square"/>
<path d="M47.80 364.40V457.80" stroke="#a5a5a5" stroke-width="1.9" stroke-linecap="square"/>
<path d="M225.90 364.40V457.80" stroke="#a0a0a0" stroke-width="1.9" stroke-linecap="square"/>
<path d="M47.80 364.40H225.90" stroke="#555" stroke-width="1.4" stroke-linecap="square"/>
<text x="44.60" y="368.40" text-anchor="end" font-family="Liberation Serif" font-size="12.6">-72</text>
<text x="44.60" y="454.60" text-anchor="end" font-family="Liberation Serif" font-size="12.6">-92</text>
<text x="57.70" y="470.10" text-anchor="middle" font-family="Liberation Serif" font-size="12.6">0</text>
<text x="89.48" y="470.10" text-anchor="middle" font-family="Liberation Serif" font-size="12.6">0.3</text>
<text x="121.26" y="470.10" text-anchor="middle" font-family="Liberation Serif" font-size="12.6">0.6</text>
<text x="153.04" y="470.10" text-anchor="middle" font-family="Liberation Serif" font-size="12.6">0.9</text>
<text x="184.82" y="470.10" text-anchor="middle" font-family="Liberation Serif" font-size="12.6">1.2</text>
<text x="216.60" y="470.10" text-anchor="middle" font-family="Liberation Serif" font-size="12.6">1.5</text>
<text x="137.15" y="485.80" text-anchor="middle" font-family="Liberation Serif" font-size="12.5"><tspan font-style="italic">x</tspan> (cm)</text>
<text transform="translate(10.20 410.80) rotate(-90)" text-anchor="middle" font-family="Liberation Serif" font-size="12.4">Holographic AM signal</text>
<text transform="translate(25.30 410.60) rotate(-90)" text-anchor="middle" font-family="Liberation Serif" font-size="12.4">(dBm)</text>
<text x="51.30" y="448.80" font-family="Liberation Serif" font-size="15.8">(d)</text>
<path d="M408.90 365.40V456.60 M440.88 365.40V456.60 M472.86 365.40V456.60 M504.84 365.40V456.60 M536.82 365.40V456.60 M568.80 365.40V456.60" stroke="#f08aa4" stroke-width="0.9" stroke-dasharray="1 1.6" fill="none"/>
<path d="M400.40 385.95H577.30 M400.40 407.50H577.30 M400.40 429.05H577.30 M400.40 450.60H577.30" stroke="#f08aa4" stroke-width="0.9" stroke-dasharray="1 1.6" fill="none"/>
<path d="M408.90 390.60 L409.97 390.91 L411.03 391.32 L412.10 391.81 L413.16 392.37 L414.23 392.95 L415.30 393.54 L416.36 394.12 L417.43 394.65 L418.49 395.12 L419.56 395.50 L420.63 395.81 L421.69 396.08 L422.76 396.32 L423.82 396.53 L424.89 396.71 L425.96 396.85 L427.02 396.96 L428.09 397.04 L429.15 397.08 L430.22 397.10 L431.29 397.09 L432.35 397.06 L433.42 396.99 L434.48 396.90 L435.55 396.78 L436.62 396.61 L437.68 396.40 L438.75 396.15 L439.81 395.85 L440.88 395.50 L441.95 395.08 L443.01 394.59 L444.08 394.04 L445.14 393.44 L446.21 392.81 L447.28 392.15 L448.34 391.48 L449.41 390.80 L450.47 390.14 L451.54 389.50 L452.61 388.86 L453.67 388.20 L454.74 387.52 L455.80 386.84 L456.87 386.16 L457.94 385.48 L459.00 384.82 L460.07 384.18 L461.13 383.57 L462.20 383.00 L463.27 382.45 L464.33 381.91 L465.40 381.38 L466.46 380.87 L467.53 380.39 L468.60 379.93 L469.66 379.51 L470.73 379.12 L471.79 378.79 L472.86 378.50 L473.93 378.27 L474.99 378.08 L476.06 377.94 L477.12 377.83 L478.19 377.76 L479.26 377.72 L480.32 377.71 L481.39 377.73 L482.45 377.76 L483.52 377.80 L484.59 377.86 L485.65 377.93 L486.72 378.03 L487.78 378.14 L488.85 378.29 L489.92 378.46 L490.98 378.66 L492.05 378.90 L493.11 379.18 L494.18 379.50 L495.25 379.87 L496.31 380.31 L497.38 380.79 L498.44 381.30 L499.51 381.85 L500.58 382.41 L501.64 382.98 L502.71 383.54 L503.77 384.08 L504.84 384.60 L505.91 385.10 L506.97 385.59 L508.04 386.08 L509.10 386.57 L510.17 387.06 L511.24 387.54 L512.30 388.03 L513.37 388.52 L514.43 389.01 L515.50 389.50 L516.57 390.01 L517.63 390.53 L518.70 391.06 L519.76 391.60 L520.83 392.13 L521.90 392.65 L522.96 393.16 L524.03 393.64 L525.09 394.09 L526.16 394.50 L527.23 394.88 L528.29 395.25 L529.36 395.61 L530.42 395.94 L531.49 396.24 L532.56 396.52 L533.62 396.77 L534.69 396.99 L535.75 397.16 L536.82 397.30 L537.89 397.41 L538.95 397.50 L540.02 397.56 L541.08 397.59 L542.15 397.59 L543.22 397.54 L544.28 397.44 L545.35 397.29 L546.41 397.08 L547.48 396.80 L548.55 396.43 L549.61 395.98 L550.68 395.45 L551.74 394.86 L552.81 394.23 L553.88 393.57 L554.94 392.90 L556.01 392.24 L557.07 391.60 L558.14 391.00 L559.21 390.40 L560.27 389.76 L561.34 389.10 L562.40 388.44 L563.47 387.79 L564.54 387.16 L565.60 386.59 L566.67 386.07 L567.73 385.64 L568.80 385.30" stroke="#5ed2ca" stroke-width="0.95" fill="none"/>
<path d="M408.90 377.10V387.70M406.80 377.10h4.2M406.80 387.70h4.2 M414.23 386.40V399.40M412.13 386.40h4.2M412.13 399.40h4.2 M430.22 384.50V397.50M428.12 384.50h4.2M428.12 397.50h4.2 M440.88 392.40V401.40M438.78 392.40h4.2M438.78 401.40h4.2 M446.21 391.70V398.70M444.11 391.70h4.2M444.11 398.70h4.2 M451.54 383.70V391.70M449.44 383.70h4.2M449.44 391.70h4.2 M456.87 375.80V383.80M454.77 375.80h4.2M454.77 383.80h4.2 M462.20 388.00V397.00M460.10 388.00h4.2M460.10 397.00h4.2 M467.53 375.50V381.50M465.43 375.50h4.2M465.43 381.50h4.2 M472.86 374.90V379.90M470.76 374.90h4.2M470.76 379.90h4.2 M478.19 371.10V377.10M476.09 371.10h4.2M476.09 377.10h4.2 M483.52 368.50V378.50M481.42 368.50h4.2M481.42 378.50h4.2 M488.85 371.50V375.50M486.75 371.50h4.2M486.75 375.50h4.2 M494.18 374.80V382.80M492.08 374.80h4.2M492.08 382.80h4.2 M499.51 381.60V387.60M497.41 381.60h4.2M497.41 387.60h4.2 M504.84 375.30V381.30M502.74 375.30h4.2M502.74 381.30h4.2 M510.17 388.30V400.30M508.07 388.30h4.2M508.07 400.30h4.2 M520.83 388.20V394.20M518.73 388.20h4.2M518.73 394.20h4.2 M536.82 389.30V397.30M534.72 389.30h4.2M534.72 397.30h4.2 M542.15 392.40V398.40M540.05 392.40h4.2M540.05 398.40h4.2 M547.48 390.40V402.40M545.38 390.40h4.2M545.38 402.40h4.2 M558.14 384.40V390.40M556.04 384.40h4.2M556.04 390.40h4.2 M568.80 382.90V386.90M566.70 382.90h4.2M566.70 386.90h4.2" stroke="#eba23e" stroke-width="0.9" fill="none" opacity="0.65"/>
<ellipse cx="408.90" cy="382.40" rx="2.1" ry="2.3" fill="#eba23e"/>
<ellipse cx="414.23" cy="392.90" rx="2.1" ry="2.3" fill="#eba23e"/>
<ellipse cx="419.56" cy="396.70" rx="2.1" ry="2.3" fill="#eba23e"/>
<ellipse cx="424.89" cy="395.40" rx="2.1" ry="2.3" fill="#eba23e"/>
<ellipse cx="430.22" cy="391.00" rx="2.1" ry="2.3" fill="#eba23e"/>
<ellipse cx="435.55" cy="398.20" rx="2.1" ry="2.3" fill="#eba23e"/>
<ellipse cx="440.88" cy="396.90" rx="2.1" ry="2.3" fill="#eba23e"/>
<ellipse cx="446.21" cy="395.20" rx="2.1" ry="2.3" fill="#eba23e"/>
<ellipse cx="451.54" cy="387.70" rx="2.1" ry="2.3" fill="#eba23e"/>
<ellipse cx="456.87" cy="379.80" rx="2.1" ry="2.3" fill="#eba23e"/>
<ellipse cx="462.20" cy="392.50" rx="2.1" ry="2.3" fill="#eba23e"/>
<ellipse cx="467.53" cy="378.50" rx="2.1" ry="2.3" fill="#eba23e"/>
<ellipse cx="472.86" cy="377.40" rx="2.1" ry="2.3" fill="#eba23e"/>
<ellipse cx="478.19" cy="374.10" rx="2.1" ry="2.3" fill="#eba23e"/>
<ellipse cx="483.52" cy="373.50" rx="2.1" ry="2.3" fill="#eba23e"/>
<ellipse cx="488.85" cy="373.50" rx="2.1" ry="2.3" fill="#eba23e"/>
<ellipse cx="494.18" cy="378.80" rx="2.1" ry="2.3" fill="#eba23e"/>
<ellipse cx="499.51" cy="384.60" rx="2.1" ry="2.3" fill="#eba23e"/>
<ellipse cx="504.84" cy="378.30" rx="2.1" ry="2.3" fill="#eba23e"/>
<ellipse cx="510.17" cy="394.30" rx="2.1" ry="2.3" fill="#eba23e"/>
<ellipse cx="515.50" cy="393.60" rx="2.1" ry="2.3" fill="#eba23e"/>
<ellipse cx="520.83" cy="391.20" rx="2.1" ry="2.3" fill="#eba23e"/>
<ellipse cx="526.16" cy="401.20" rx="2.1" ry="2.3" fill="#eba23e"/>
<ellipse cx="531.49" cy="396.00" rx="2.1" ry="2.3" fill="#eba23e"/>
<ellipse cx="536.82" cy="393.30" rx="2.1" ry="2.3" fill="#eba23e"/>
<ellipse cx="542.15" cy="395.40" rx="2.1" ry="2.3" fill="#eba23e"/>
<ellipse cx="547.48" cy="396.40" rx="2.1" ry="2.3" fill="#eba23e"/>
<ellipse cx="552.81" cy="388.00" rx="2.1" ry="2.3" fill="#eba23e"/>
<ellipse cx="558.14" cy="387.40" rx="2.1" ry="2.3" fill="#eba23e"/>
<ellipse cx="563.47" cy="388.50" rx="2.1" ry="2.3" fill="#eba23e"/>
<ellipse cx="568.80" cy="384.90" rx="2.1" ry="2.3" fill="#eba23e"/>
<path d="M399.40 457.60H578.30" stroke="#888" stroke-width="1.6" stroke-linecap="square"/>
<path d="M399.40 364.40V457.60" stroke="#444" stroke-width="1.1" stroke-linecap="square"/>
<path d="M578.30 364.40V457.60" stroke="#777" stroke-width="1.5" stroke-linecap="square"/>
<path d="M399.40 364.40H578.30" stroke="#666" stroke-width="1.5" stroke-linecap="square"/>
<path d="M399.40 385.95h3 M399.40 407.50h3 M399.40 429.05h3 M399.40 450.60h3 M408.90 457.60v-3 M424.89 457.60v-1.2 M440.88 457.60v-3 M456.87 457.60v-1.2 M472.86 457.60v-3 M488.85 457.60v-1.2 M504.84 457.60v-3 M520.83 457.60v-1.2 M536.82 457.60v-3 M552.81 457.60v-1.2 M568.80 457.60v-3" stroke="#333" stroke-width="1" fill="none"/>
<text x="397.00" y="368.40" text-anchor="end" font-family="Liberation Serif" font-size="12.6">-72</text>
<text x="397.00" y="454.60" text-anchor="end" font-family="Liberation Serif" font-size="12.6">-92</text>
<text x="409.80" y="469.90" text-anchor="middle" font-family="Liberation Serif" font-size="12.6">0</text>
<text x="440.88" y="469.90" text-anchor="middle" font-family="Liberation Serif" font-size="12.6">0.3</text>
<text x="472.86" y="469.90" text-anchor="middle" font-family="Liberation Serif" font-size="12.6">0.6</text>
<text x="504.84" y="469.90" text-anchor="middle" font-family="Liberation Serif" font-size="12.6">0.9</text>
<text x="536.82" y="469.90" text-anchor="middle" font-family="Liberation Serif" font-size="12.6">1.2</text>
<text x="568.80" y="469.90" text-anchor="middle" font-family="Liberation Serif" font-size="12.6">1.5</text>
<text x="489.15" y="485.60" text-anchor="middle" font-family="Liberation Serif" font-size="12.5"><tspan font-style="italic">x</tspan> (cm)</text>
<text transform="translate(361.80 410.70) rotate(-90)" text-anchor="middle" font-family="Liberation Serif" font-size="12.4">Holographic AM signal</text>
<text transform="translate(376.90 410.50) rotate(-90)" text-anchor="middle" font-family="Liberation Serif" font-size="12.4">(dBm)</text>
<text x="404.20" y="449.00" font-family="Liberation Serif" font-size="15.8">(e)</text>
<defs><radialGradient id="sg1" cx="0.78" cy="0.3" r="0.92" fx="0.8" fy="0.28"><stop offset="0" stop-color="#ffffff"/><stop offset="0.12" stop-color="#fdf0e6"/><stop offset="0.4" stop-color="#f3c099"/><stop offset="0.7" stop-color="#e68b4f"/><stop offset="1" stop-color="#d66524"/></radialGradient></defs>
<circle cx="279.7" cy="269.2" r="33" fill="url(#sg1)" stroke="#333" stroke-width="0.9"/>
<path d="M246.7 269.2 A33 15.6 0 0 1 312.7 269.2" stroke="#2e2e2e" stroke-width="0.8" fill="none" stroke-dasharray="2.4 1.6"/>
<path d="M246.7 269.2 A33 15.6 0 0 0 312.7 269.2" stroke="#2e2e2e" stroke-width="0.8" fill="none"/>
<path d="M279.7 236.2 A16.1 33 0 0 0 279.7 302.2" stroke="#2e2e2e" stroke-width="0.8" fill="none"/>
<path d="M279.7 236.2 A16.1 33 0 0 1 279.7 302.2" stroke="#2e2e2e" stroke-width="0.8" fill="none" stroke-dasharray="2.4 1.6"/>
<path d="M279.4 306.8V228.2" stroke="#2a2a2a" stroke-width="0.85" fill="none"/>
<path d="M310.7 239.1L247.2 301.4" stroke="#2a2a2a" stroke-width="0.85" fill="none"/>
<path d="M242.1 253.0L321.2 286.2" stroke="#2a2a2a" stroke-width="0.85" fill="none"/>
<path d="M279.40 225.00L280.90 229.20L277.90 229.20Z" fill="#222"/>
<path d="M244.50 304.10L246.41 300.07L248.53 302.19Z" fill="#222"/>
<path d="M324.30 287.60L319.85 287.36L321.01 284.59Z" fill="#222"/>
<text x="265.60" y="226.10" font-family="Liberation Serif" font-size="12.9" font-style="italic">S</text>
<text x="272.10" y="228.70" font-family="Liberation Serif" font-size="8.2">3</text>
<text x="321.30" y="283.20" font-family="Liberation Serif" font-size="12.9" font-style="italic">S</text>
<text x="327.80" y="285.80" font-family="Liberation Serif" font-size="8.2">2</text>
<text x="236.00" y="298.30" font-family="Liberation Serif" font-size="12.9" font-style="italic">S</text>
<text x="242.20" y="301.20" font-family="Liberation Serif" font-size="8.2">1</text>
<text x="296.60" y="268.90" font-family="Liberation Serif" font-size="12.8" font-style="italic">P</text>
<circle cx="294.7" cy="255.3" r="2.9" fill="#f21010" stroke="#3a0000" stroke-width="0.8"/>
<defs><radialGradient id="sg2" cx="0.78" cy="0.3" r="0.92" fx="0.8" fy="0.28"><stop offset="0" stop-color="#ffffff"/><stop offset="0.12" stop-color="#fdf0e6"/><stop offset="0.4" stop-color="#f3c099"/><stop offset="0.7" stop-color="#e68b4f"/><stop offset="1" stop-color="#d66524"/></radialGradient></defs>
<circle cx="632.7" cy="268.7" r="33" fill="url(#sg2)" stroke="#333" stroke-width="0.9"/>
<path d="M599.7 268.7 A33 15.6 0 0 1 665.7 268.7" stroke="#2e2e2e" stroke-width="0.8" fill="none" stroke-dasharray="2.4 1.6"/>
<path d="M599.7 268.7 A33 15.6 0 0 0 665.7 268.7" stroke="#2e2e2e" stroke-width="0.8" fill="none"/>
<path d="M632.7 235.7 A16.1 33 0 0 0 632.7 301.7" stroke="#2e2e2e" stroke-width="0.8" fill="none"/>
<path d="M632.7 235.7 A16.1 33 0 0 1 632.7 301.7" stroke="#2e2e2e" stroke-width="0.8" fill="none" stroke-dasharray="2.4 1.6"/>
<path d="M632.4000000000001 306.3V227.7" stroke="#2a2a2a" stroke-width="0.85" fill="none"/>
<path d="M663.7 238.6L600.2 300.9" stroke="#2a2a2a" stroke-width="0.85" fill="none"/>
<path d="M595.1 252.5L674.2 285.7" stroke="#2a2a2a" stroke-width="0.85" fill="none"/>
<path d="M632.40 224.50L633.90 228.70L630.90 228.70Z" fill="#222"/>
<path d="M597.50 303.60L599.41 299.57L601.53 301.69Z" fill="#222"/>
<path d="M677.30 287.10L672.85 286.86L674.01 284.09Z" fill="#222"/>
<text x="618.60" y="225.60" font-family="Liberation Serif" font-size="12.9" font-style="italic">S</text>
<text x="625.10" y="228.20" font-family="Liberation Serif" font-size="8.2">3</text>
<text x="674.30" y="282.70" font-family="Liberation Serif" font-size="12.9" font-style="italic">S</text>
<text x="680.80" y="285.30" font-family="Liberation Serif" font-size="8.2">2</text>
<text x="589.00" y="297.80" font-family="Liberation Serif" font-size="12.9" font-style="italic">S</text>
<text x="595.20" y="300.70" font-family="Liberation Serif" font-size="8.2">1</text>
<text x="653.10" y="272.60" font-family="Liberation Serif" font-size="12.8" font-style="italic">P</text>
<circle cx="657.3" cy="278.6" r="2.9" fill="#f21010" stroke="#3a0000" stroke-width="0.8"/>
<defs><radialGradient id="sg3" cx="0.78" cy="0.3" r="0.92" fx="0.8" fy="0.28"><stop offset="0" stop-color="#ffffff"/><stop offset="0.12" stop-color="#fdf0e6"/><stop offset="0.4" stop-color="#f3c099"/><stop offset="0.7" stop-color="#e68b4f"/><stop offset="1" stop-color="#d66524"/></radialGradient></defs>
<circle cx="279.7" cy="415.2" r="33" fill="url(#sg3)" stroke="#333" stroke-width="0.9"/>
<path d="M246.7 415.2 A33 15.6 0 0 1 312.7 415.2" stroke="#2e2e2e" stroke-width="0.8" fill="none" stroke-dasharray="2.4 1.6"/>
<path d="M246.7 415.2 A33 15.6 0 0 0 312.7 415.2" stroke="#2e2e2e" stroke-width="0.8" fill="none"/>
<path d="M279.7 382.2 A16.1 33 0 0 0 279.7 448.2" stroke="#2e2e2e" stroke-width="0.8" fill="none"/>
<path d="M279.7 382.2 A16.1 33 0 0 1 279.7 448.2" stroke="#2e2e2e" stroke-width="0.8" fill="none" stroke-dasharray="2.4 1.6"/>
<path d="M279.4 452.8V374.2" stroke="#2a2a2a" stroke-width="0.85" fill="none"/>
<path d="M310.7 385.09999999999997L247.2 447.4" stroke="#2a2a2a" stroke-width="0.85" fill="none"/>
<path d="M242.1 399.0L321.2 432.2" stroke="#2a2a2a" stroke-width="0.85" fill="none"/>
<path d="M279.40 371.00L280.90 375.20L277.90 375.20Z" fill="#222"/>
<path d="M244.50 450.10L246.41 446.07L248.53 448.19Z" fill="#222"/>
<path d="M324.30 433.60L319.85 433.36L321.01 430.59Z" fill="#222"/>
<text x="265.60" y="372.10" font-family="Liberation Serif" font-size="12.9" font-style="italic">S</text>
<text x="272.10" y="374.70" font-family="Liberation Serif" font-size="8.2">3</text>
<text x="321.30" y="429.20" font-family="Liberation Serif" font-size="12.9" font-style="italic">S</text>
<text x="327.80" y="431.80" font-family="Liberation Serif" font-size="8.2">2</text>
<text x="236.00" y="444.30" font-family="Liberation Serif" font-size="12.9" font-style="italic">S</text>
<text x="242.20" y="447.20" font-family="Liberation Serif" font-size="8.2">1</text>
<text x="254.40" y="423.90" font-family="Liberation Serif" font-size="12.8" font-style="italic">P</text>
<circle cx="265.0" cy="428.7" r="2.9" fill="#f21010" stroke="#3a0000" stroke-width="0.8"/>
<defs><radialGradient id="sg4" cx="0.78" cy="0.3" r="0.92" fx="0.8" fy="0.28"><stop offset="0" stop-color="#ffffff"/><stop offset="0.12" stop-color="#fdf0e6"/><stop offset="0.4" stop-color="#f3c099"/><stop offset="0.7" stop-color="#e68b4f"/><stop offset="1" stop-color="#d66524"/></radialGradient></defs>
<circle cx="632.4" cy="415.4" r="33" fill="url(#sg4)" stroke="#333" stroke-width="0.9"/>
<path d="M599.4 415.4 A33 15.6 0 0 1 665.4 415.4" stroke="#2e2e2e" stroke-width="0.8" fill="none" stroke-dasharray="2.4 1.6"/>
<path d="M599.4 415.4 A33 15.6 0 0 0 665.4 415.4" stroke="#2e2e2e" stroke-width="0.8" fill="none"/>
<path d="M632.4 382.4 A16.1 33 0 0 0 632.4 448.4" stroke="#2e2e2e" stroke-width="0.8" fill="none"/>
<path d="M632.4 382.4 A16.1 33 0 0 1 632.4 448.4" stroke="#2e2e2e" stroke-width="0.8" fill="none" stroke-dasharray="2.4 1.6"/>
<path d="M632.1 453.0V374.4" stroke="#2a2a2a" stroke-width="0.85" fill="none"/>
<path d="M663.4 385.29999999999995L599.9 447.59999999999997" stroke="#2a2a2a" stroke-width="0.85" fill="none"/>
<path d="M594.8 399.2L673.9 432.4" stroke="#2a2a2a" stroke-width="0.85" fill="none"/>
<path d="M632.10 371.20L633.60 375.40L630.60 375.40Z" fill="#222"/>
<path d="M597.20 450.30L599.11 446.27L601.23 448.39Z" fill="#222"/>
<path d="M677.00 433.80L672.55 433.56L673.71 430.79Z" fill="#222"/>
<text x="618.30" y="372.30" font-family="Liberation Serif" font-size="12.9" font-style="italic">S</text>
<text x="624.80" y="374.90" font-family="Liberation Serif" font-size="8.2">3</text>
<text x="674.00" y="429.40" font-family="Liberation Serif" font-size="12.9" font-style="italic">S</text>
<text x="680.50" y="432.00" font-family="Liberation Serif" font-size="8.2">2</text>
<text x="588.70" y="444.50" font-family="Liberation Serif" font-size="12.9" font-style="italic">S</text>
<text x="594.90" y="447.40" font-family="Liberation Serif" font-size="8.2">1</text>
<text x="632.80" y="397.10" font-family="Liberation Serif" font-size="12.8" font-style="italic">P</text>
<circle cx="631.9" cy="382.4" r="2.9" fill="#f21010" stroke="#3a0000" stroke-width="0.8"/></svg></body></html>
